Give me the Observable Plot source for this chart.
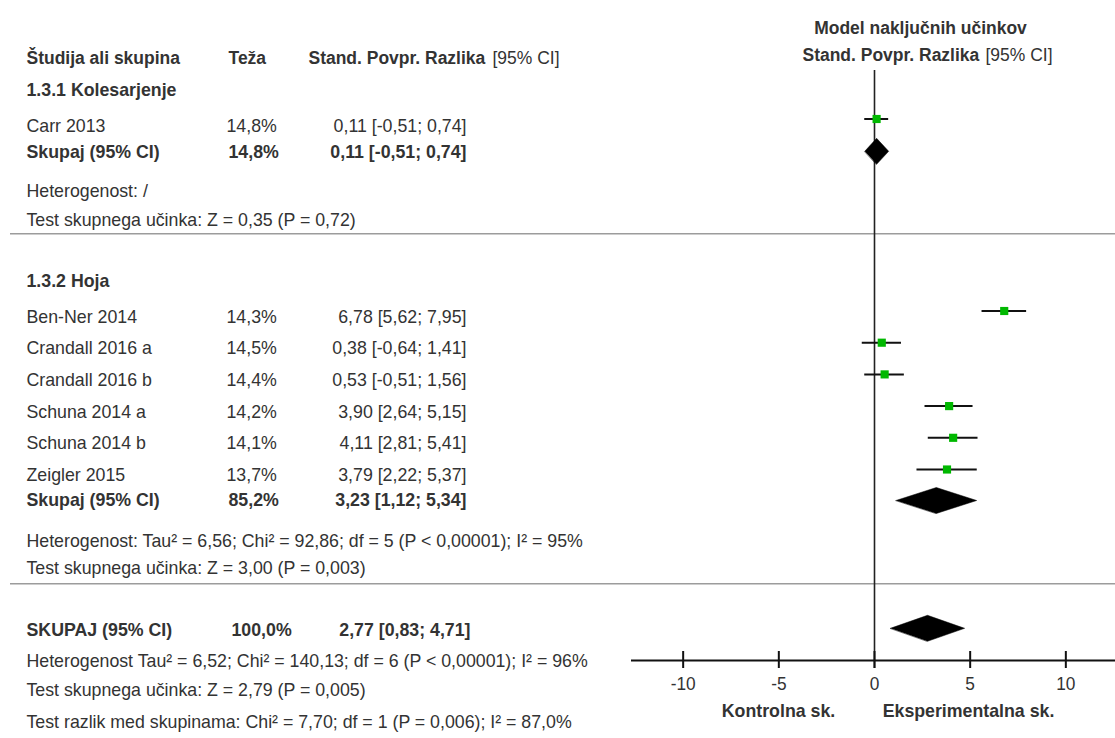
<!DOCTYPE html>
<html>
<head>
<meta charset="utf-8">
<script src="https://cdn.jsdelivr.net/npm/d3@7"></script>
<script src="https://cdn.jsdelivr.net/npm/@observablehq/plot@0.6"></script>
<style>
  html, body { margin: 0; padding: 0; background: #fff; }
  #chart { width: 1115px; height: 738px; }
</style>
</head>
<body>
<div id="chart"></div>
<script>
// ---------------- DATA ----------------
const subgroupNames = ["1.3.1 Kolesarjenje", "1.3.2 Hoja"];
const studyNames = ["Carr 2013", "Ben-Ner 2014", "Crandall 2016 a", "Crandall 2016 b", "Schuna 2014 a", "Schuna 2014 b", "Zeigler 2015"];
const studySubgroup = [0, 1, 1, 1, 1, 1, 1];
const studyWeight = [14.8, 14.3, 14.5, 14.4, 14.2, 14.1, 13.7];
const studySmd   = [0.11, 6.78, 0.38, 0.53, 3.90, 4.11, 3.79];
const studyLower = [-0.51, 5.62, -0.64, -0.51, 2.64, 2.81, 2.22];
const studyUpper = [0.74, 7.95, 1.41, 1.56, 5.15, 5.41, 5.37];

const subtotalLabel = "Skupaj (95% CI)";
const subtotalWeight = [14.8, 85.2];
const subtotalSmd   = [0.11, 3.23];
const subtotalLower = [-0.51, 1.12];
const subtotalUpper = [0.74, 5.34];
const subtotalHeterogeneity = [
  "Heterogenost: /",
  "Heterogenost: Tau² = 6,56; Chi² = 92,86; df = 5 (P < 0,00001); I² = 95%"
];
const subtotalEffectTest = [
  "Test skupnega učinka: Z = 0,35 (P = 0,72)",
  "Test skupnega učinka: Z = 3,00 (P = 0,003)"
];

const overallLabel = "SKUPAJ (95% CI)";
const overallWeight = [100.0];
const overallSmd = [2.77];
const overallLower = [0.83];
const overallUpper = [4.71];
const overallNotes = [
  "Heterogenost Tau² = 6,52; Chi² = 140,13; df = 6 (P < 0,00001); I² = 96%",
  "Test skupnega učinka: Z = 2,79 (P = 0,005)",
  "Test razlik med skupinama: Chi² = 7,70; df = 1 (P = 0,006); I² = 87,0%"
];

const columnHeaders = ["Študija ali skupina", "Teža", "Stand. Povpr. Razlika", "[95% CI]"];
const plotHeader = ["Model naključnih učinkov", "Stand. Povpr. Razlika", "[95% CI]"];
const directionLabels = ["Kontrolna sk.", "Eksperimentalna sk."];
const xTicks = [-10, -5, 0, 5, 10];
const xDomain = [-12.7, 12.7];

// ---------------- LAYOUT (pixels) ----------------
const L = {
  headerY: 57.5, plotTitleY: 27.3, plotSubY: 55,
  groups: [
    {titleY: 89,    firstText: 125.5, firstMark: 118.5, subText: 151,   subMark: 150.8, hetY: 190.5, testY: 219,   sepY: 233.3},
    {titleY: 280.8, firstText: 316,   firstMark: 310.5, subText: 499.5, subMark: 500,   hetY: 540.8, testY: 567.5, sepY: 583.3}
  ],
  rowStep: 31.7,
  overallText: 629.5, overallMark: 627.8, overallNotesY: [660.8, 689, 721.3],
  zeroTop: 70, axisY: 660, tickTop: 651, tickBottom: 668,
  directionY: 710,
  colName: 26, colWeight: 226, colWeightSub: 228, colWeightAll: 231, colCi: 466, colCiAll: 470,
  hdrWeight: 228, hdrSmd: 308, hdrCi: 492,
  plotTitleX: 920, plotSubX: 802, plotSubCiX: 985,
  dirX: [778, 968],
  diamondHalf: 13,
  axisLeft: 631, axisRight: 1117,
  fontSize: 19, headerFontSize: 18.7, textScaleX: 0.935
};

// ---------------- helpers ----------------
const loc = d3.formatLocale({decimal: ",", thousands: ".", grouping: [3], currency: ["", ""], minus: "-"});
const f2 = loc.format(".2f"), f1 = loc.format(".1f");
const ciText = (m, lo, hi) => `${f2(m)} [${f2(lo)}; ${f2(hi)}]`;
const pct = w => `${f1(w)}%`;

const counters = [0, 0];
const studyRows = studyNames.map((name, i) => {
  const g = studySubgroup[i];
  const k = counters[g]++;
  const G = L.groups[g];
  return {
    name, weight: pct(studyWeight[i]), ci: ciText(studySmd[i], studyLower[i], studyUpper[i]),
    smd: studySmd[i], lo: studyLower[i], hi: studyUpper[i],
    ty: G.firstText + k * L.rowStep, my: G.firstMark + k * L.rowStep
  };
});
const subtotalRows = subgroupNames.map((g, i) => ({
  name: subtotalLabel, weight: pct(subtotalWeight[i]),
  ci: ciText(subtotalSmd[i], subtotalLower[i], subtotalUpper[i]),
  smd: subtotalSmd[i], lo: subtotalLower[i], hi: subtotalUpper[i],
  ty: L.groups[i].subText, my: L.groups[i].subMark
}));
const overallRows = overallWeight.map((w, i) => ({
  name: overallLabel, weight: pct(w),
  ci: ciText(overallSmd[i], overallLower[i], overallUpper[i]),
  smd: overallSmd[i], lo: overallLower[i], hi: overallUpper[i],
  ty: L.overallText, my: L.overallMark
}));
const groupTitles = subgroupNames.map((t, i) => ({t, y: L.groups[i].titleY}));
const notes = [
  ...subtotalHeterogeneity.map((t, i) => ({t, y: L.groups[i].hetY})),
  ...subtotalEffectTest.map((t, i) => ({t, y: L.groups[i].testY})),
  ...overallNotes.map((t, i) => ({t, y: L.overallNotesY[i]}))
];
const separators = L.groups.map(g => g.sepY);

const diamonds = [];
[...subtotalRows, ...overallRows].forEach((r, id) => {
  const h = L.diamondHalf;
  diamonds.push({id, x: r.lo, y: r.my}, {id, x: r.smd, y: r.my - h}, {id, x: r.hi, y: r.my}, {id, x: r.smd, y: r.my + h});
});

const TXT = "#333";
const T = (data, opts) => Plot.text(data, {
  frameAnchor: "left", textAnchor: "start", lineAnchor: "middle",
  fill: TXT, fontSize: L.fontSize, ...opts
});
const one = (t, y) => [{t, y}];
const H = L.headerFontSize;

const chart = Plot.plot({
  width: 1115, height: 738,
  marginTop: 0, marginRight: 0, marginLeft: 0, marginBottom: 738 - L.axisY,
  x: {domain: xDomain, range: [L.axisLeft, L.axisRight]},
  y: {domain: [0, 738], range: [0, 738], axis: null},
  style: {fontFamily: "'Liberation Sans', Arial, Helvetica, sans-serif", fontSize: L.fontSize + "px", color: TXT, background: "#fff"},
  marks: [
    Plot.ruleY(separators, {insetLeft: 10, stroke: "#9c9c9c", strokeWidth: 1.5}),
    Plot.ruleX([0], {y1: L.zeroTop, y2: L.tickBottom, stroke: "#222", strokeWidth: 1.6}),
    Plot.ruleY([L.axisY], {insetLeft: L.axisLeft, stroke: "#111", strokeWidth: 2}),
    Plot.ruleX(xTicks, {y1: L.tickTop, y2: L.axisY, stroke: "#111", strokeWidth: 2}),
    Plot.axisX(xTicks, {anchor: "bottom", tickSize: L.tickBottom - L.axisY, tickPadding: 8,
      tickFormat: d => String(d), fontSize: 18.5, stroke: "#111", strokeWidth: 2, fill: TXT, label: null}),
    Plot.ruleY(studyRows, {y: "my", x1: "lo", x2: "hi", stroke: "#111", strokeWidth: 2}),
    Plot.dot(studyRows, {x: "smd", y: "my", symbol: "square", r: 4.6, fill: "#00b800"}),
    Plot.line(diamonds, {x: "x", y: "y", z: "id", fill: "#000", stroke: "#000", strokeWidth: 0.5, curve: "linear-closed"}),

    T(one(columnHeaders[0], L.headerY), {y: "y", text: "t", dx: L.colName, fontWeight: "bold", fontSize: H}),
    T(one(columnHeaders[1], L.headerY), {y: "y", text: "t", dx: L.hdrWeight, fontWeight: "bold", fontSize: H}),
    T(one(columnHeaders[2], L.headerY), {y: "y", text: "t", dx: L.hdrSmd, fontWeight: "bold", fontSize: H}),
    T(one(columnHeaders[3], L.headerY), {y: "y", text: "t", dx: L.hdrCi, fontSize: H}),
    T(groupTitles, {y: "y", text: "t", dx: L.colName, fontWeight: "bold"}),
    T(studyRows, {y: "ty", text: "name", dx: L.colName}),
    T(studyRows, {y: "ty", text: "weight", dx: L.colWeight}),
    T(studyRows, {y: "ty", text: "ci", dx: L.colCi, textAnchor: "end"}),
    T(subtotalRows, {y: "ty", text: "name", dx: L.colName, fontWeight: "bold"}),
    T(subtotalRows, {y: "ty", text: "weight", dx: L.colWeightSub, fontWeight: "bold"}),
    T(subtotalRows, {y: "ty", text: "ci", dx: L.colCi, textAnchor: "end", fontWeight: "bold"}),
    T(overallRows, {y: "ty", text: "name", dx: L.colName, fontWeight: "bold"}),
    T(overallRows, {y: "ty", text: "weight", dx: L.colWeightAll, fontWeight: "bold"}),
    T(overallRows, {y: "ty", text: "ci", dx: L.colCiAll, textAnchor: "end", fontWeight: "bold"}),
    T(notes, {y: "y", text: "t", dx: L.colName}),
    T(one(plotHeader[0], L.plotTitleY), {y: "y", text: "t", dx: L.plotTitleX, textAnchor: "middle", fontWeight: "bold", fontSize: H}),
    T(one(plotHeader[1], L.plotSubY), {y: "y", text: "t", dx: L.plotSubX, fontWeight: "bold", fontSize: H}),
    T(one(plotHeader[2], L.plotSubY), {y: "y", text: "t", dx: L.plotSubCiX, fontSize: H}),
    T(one(directionLabels[0], L.directionY), {y: "y", text: "t", dx: L.dirX[0], textAnchor: "middle", fontWeight: "bold"}),
    T(one(directionLabels[1], L.directionY), {y: "y", text: "t", dx: L.dirX[1], textAnchor: "middle", fontWeight: "bold"})
  ]
});

// narrow the glyphs horizontally around each text's own anchor (the reference uses a condensed face);
// Plot positions each text with transform="translate(x,y)", so a trailing scale keeps the anchor fixed.
chart.querySelectorAll("text").forEach(el => {
  const t = el.getAttribute("transform");
  if (t && /translate\(/.test(t)) el.setAttribute("transform", `${t} scale(${L.textScaleX},1)`);
});
document.getElementById("chart").appendChild(chart);
</script>
</body>
</html>
